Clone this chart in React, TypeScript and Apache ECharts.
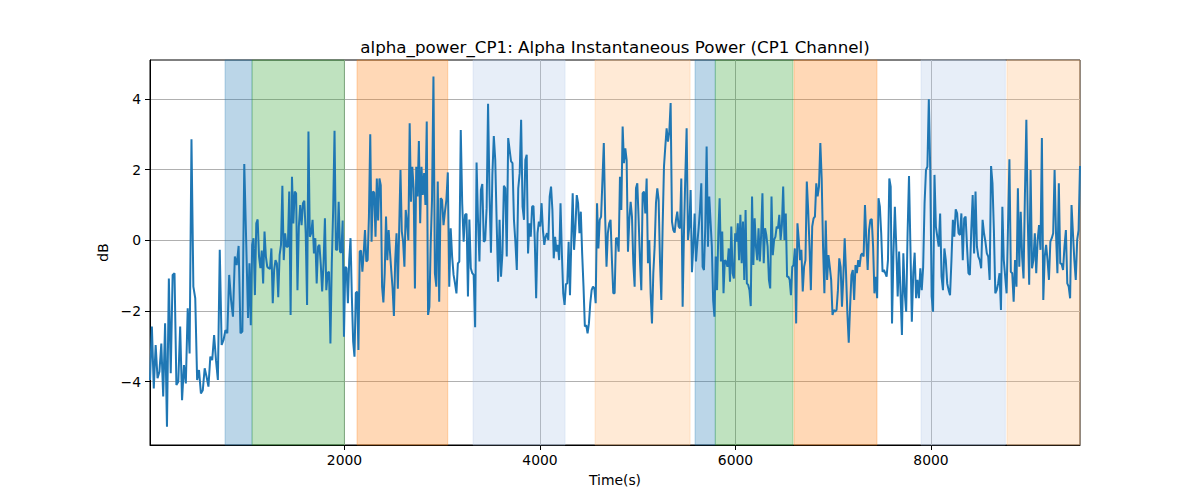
import React, { useEffect, useRef } from "react";
import * as echarts from "echarts";

const TITLE = "alpha_power_CP1: Alpha Instantaneous Power (CP1 Channel)";
const X_NAME = "Time(s)";
const Y_NAME = "dB";

// Power values (dB), read segment by segment across the time axis
const seg1 = [-3.95, -2.44, -4.19, -2.96, -3.9, -3.72, -2.92, -4.42, -2.35, -5.27, -1.08, -3.76, -0.98, -0.93, -4.09, -4.0, -2.44, -4.52, -3.53, -4.05, -1.92, -3.2, 2.86, -1.31, -1.64, -3.95, -3.67, -4.33, -4.24, -3.62, -3.86, -4.14, -3.29, -3.39, -2.68, -3.39, -3.95, -0.27, -2.96, -2.82, -2.54, -2.63, -0.98, -1.69, -2.16, -0.46, -0.7, -0.16, -2.63, -2.58, 2.16, 0.0, -2.2];
const seg2 = [-0.65, -2.4, -0.13, 0.06, -1.55, 0.48, 0.59, -0.46, -0.79, -0.29, -1.22, 0.25, -0.46, -0.75, -0.79, -0.81, -0.23, -1.78, -0.84, -0.56, -0.65, -1.61, -0.42, -0.13, 1.54, -0.56, 0.2, -0.18, -0.18, 1.38, -2.11, 1.8, 0.48, 1.38, 1.33, -1.41, 0.39, 1.0, 0.43, 1.05, 1.12, 0.2, -1.83, 3.08, 0.1, 0.2, 0.58, -0.37, 0.06, -1.22, -0.18, -0.13, -0.7, -1.45, -0.65, 0.62, -1.41, -0.92, -0.89, -2.92, -0.65, 0.86, 3.1, -0.27, -0.27, 1.09, -0.32];
const seg3 = [-0.35, 0.56, -2.73, -0.75, -0.79, -1.78, -0.56, 0.06, -1.6, -2.87, -3.29, -1.49, -1.45, -3.1, -0.32, -0.29, -0.89, -0.37, 0.29, -0.6, -0.56, 0.67, 3.0, -0.04, 1.38, 1.35, 0.1, 1.75, 0.56, 1.75, 1.56, -1.31, -1.76, -0.93, 0.67, -0.56, 0.29, -0.32, -0.86, -1.36, -2.14, -0.56, 0.2, -1.37, 0.29, 1.99, 0.25, -0.04, -0.75, 0.86, 0.5, 0.0, 3.31, 1.09, 2.08, 1.48, -1.36, 2.08, 1.24, 2.81, 0.48, 2.08, 1.28, 1.9, 1.0, 3.36, -2.11, -1.88, -0.1, 1.14];
const seg4 = [4.63, -0.93, -1.31, 1.66, -1.74, 1.19, 1.14, 0.43, 0.81, 1.14, 1.92, -1.31, 0.34, -0.46, -0.98, -1.22, -1.5, -0.65, -0.6, 3.12, 1.05, -0.04, 0.72, 0.75, -1.59, 0.59, -0.79, -0.93, -0.98, -2.46, 2.2, 0.58, -0.6, 1.42, 1.59, -0.04, 0.0, 0.91, 3.86, 1.33, -0.35, 1.85, 2.95, 2.27, 0.48, -1.17, 0.58, -1.03, -0.37, 1.54, 1.47, -0.46, 2.89, 2.56, 2.23, 2.18, 0.58, -0.04, -0.84, 1.47, 1.9, 3.41, 0.95, 0.58];
const seg5 = [2.27, 2.42, -0.37, 0.48, 0.1, 0.95, 0.97, -0.04, -1.64, 0.2, 0.53, 0.39, 1.05, 0.29, -0.13, 0.1, 0.2, 0.01, 1.24, 1.52, 0.86, -0.51, 0.1, -0.32, -0.13, -0.56, 1.05, -0.37, -1.5, -1.83, -1.24, -1.22, -0.04, -1.55, 0.01, 1.33, -0.27, 0.34, 1.28, 1.05, 0.2, 0.81, -0.37, -1.31, -2.44, -2.4, -2.63, -2.35, -1.78, -1.41, -1.31, -1.36, -1.78, 1.05, -0.23, 0.58, 0.67, 1.71, 2.75, 0.67, -0.75, 0.2, 0.48, 0.58, -0.56, -1.5, -1.5, 0.06];
const seg6 = [0.06, -0.32, 1.8, 0.86, 3.22, 2.18, 2.6, 2.27, -0.32, 0.58, 1.09, 0.67, -0.65, -1.31, 1.47, 1.61, 0.58, -0.56, -1.41, 1.33, 1.38, 0.76, 1.75, -0.65, 0.01, -1.5, -2.35, -0.93, -0.18, 1.05, 1.47, 1.14, -0.56, -1.69, 0.39, 2.08, 2.65, 3.17, 2.79, 3.07, 3.88, 0.53, 0.29, 0.22, 0.58, 0.81, 0.39, 0.34, 1.75, -1.88, 0.2, 1.8, 3.17, 0.01, 0.39, 1.42, -0.9, -0.18, 0.76, -0.6, -0.09, 0.34, 0.86, 1.61, -0.75, -0.84, 0.39, 2.65, -0.18];
const seg7 = [1.24, 0.53, -0.18, -1.69, -2.16, -0.46, -1.41, 0.2, 1.19, -0.6, 0.25, -1.5, -0.56, -0.6, -0.75, -0.23, -1.17, 0.39, -0.93, -1.08, 0.2, -0.04, 0.48, -0.56, 0.72, -0.65, 0.53, -1.12, 0.86, -1.22, -1.26, -1.41, -1.86, 1.24, -0.7, 0.62, -0.18, -0.56, 0.34, -0.6, 0.15, 1.33, -0.65, 0.34, 0.15, -0.18, -1.12, -1.36, 1.24, -0.42, 0.01, 0.1, 0.39, 0.34, 0.72, 0.01, 0.43, 1.52, 0.01, 0.76, -1.03, -1.03, -1.12, -1.55, -0.75, -0.7, -0.23, -2.35, 0.48, 0.01, -0.56];
const seg8 = [-0.27, -1.45, -0.75, -0.56, 1.66, 0.86, -0.18, -1.41, 0.39, 0.62, 0.67, 1.61, 1.24, 1.52, 2.75, 1.75, -0.18, -1.5, 0.56, -1.12, -0.42, -0.75, -1.12, -2.11, -1.97, -2.02, -1.97, -1.41, -0.51, -0.75, -1.88, -1.03, 0.06, -0.93, -2.07, -2.9, -1.88, -0.98, -0.84, -1.69, -0.7, -0.93, -0.56, -0.75, -0.42, -0.37, -0.46, 1.0, 0.01, -0.84, 0.29, 0.58, 0.6, -0.18, -1.5, -1.03, -1.64, 1.19, 0.95, 0.2, -0.89, -0.84, -0.93, -1.03, -0.56, 1.75, 1.52, -2.35];
const seg9 = [-0.37, 0.95, -0.18, -1.59, -0.32, -1.5, -2.68, -0.37, -1.5, -2.02, 0.2, 1.82, -0.18, -2.3, -0.93, -0.35, -1.64, -1.12, -1.64, -0.79, -1.41, -0.75, 1.05, 1.99, 2.08, 3.99, 1.99, -1.59, -2.02, 1.85, 0.39, 0.1, -0.18, 0.76, -1.03, -1.41, -0.23, -0.56, -1.22, -1.41, -1.55, -0.56, 0.58, 0.1, 0.88, 0.76, 0.2, 0.15, 0.76, -0.56, 0.62, 0.67, -0.18, -0.93, -0.98, 0.29, 1.28, -0.37, 1.38, -0.18, -0.46, -0.56, -0.79, 0.58, 0.2];
const seg10 = [-0.04, -0.37, -0.46, -1.12, 2.1, 1.61, 0.29, -1.5, -1.41, -1.22, -0.93, -1.97, 0.95, -0.56, -1.03, -1.5, 0.39, 2.29, -0.89, -0.93, -1.74, -0.56, -1.31, 1.47, -0.75, 0.81, -0.46, -1.08, 1.33, 3.41, 0.58, -1.26, 1.99, -0.79, -0.56, 0.2, -0.93, 0.01, 0.43, -0.27, 2.89, -1.69, -0.46, -0.13, -0.56, -1.12, -0.04, 0.06, 0.2, 1.99, 0.2, -0.93, 1.61, -0.65, -0.67, -0.84, -0.18, 0.29, -1.22, -1.31, -1.64, 1.0, 0.2, -0.56, -1.12, 0.01, 0.29, 2.1];

// Time (s) at the boundaries of the segments above
const segBounds = [10, 1013, 1954, 2895, 3836, 4777, 5718, 6660, 7601, 8542, 9524];

// Shaded intervals
const bandStarts = [778, 1054, 2128, 3315, 4563, 5586, 5793, 6598, 7898, 8777];
const bandEnds = [1054, 1998, 3056, 4256, 5535, 5793, 6588, 7447, 8760, 9524];
const bandColors = ["#1f77b4", "#2ca02c", "#ff7f0e", "#aec7e8", "#ffbb78", "#1f77b4", "#2ca02c", "#ff7f0e", "#aec7e8", "#ffbb78"];

const xTicks = [2000, 4000, 6000, 8000];
const yTicks = [-4, -2, 0, 2, 4];
const X_MIN = 10;
const X_MAX = 9524;
const Y_MIN = -5.79;
const Y_MAX = 5.1;

const FONT = "DejaVu Sans";

function rgba(hex: string, a: number) {
  const n = parseInt(hex.slice(1), 16);
  return `rgba(${(n >> 16) & 255},${(n >> 8) & 255},${n & 255},${a})`;
}

function buildData(): [number, number][] {
  const segments = [seg1, seg2, seg3, seg4, seg5, seg6, seg7, seg8, seg9, seg10];
  const out: [number, number][] = [];
  segments.forEach((seg, k) => {
    const a = segBounds[k];
    const b = segBounds[k + 1];
    const n = seg.length;
    seg.forEach((v, i) => {
      const t = k === 0 ? a + (i * (b - a)) / (n - 1) : a + ((i + 1) * (b - a)) / n;
      out.push([Math.round(t * 10) / 10, v]);
    });
  });
  return out;
}

const minusFmt = (v: number) => (v < 0 ? "\u2212" + Math.abs(v) : String(v));

export default function App() {
  const ref = useRef<HTMLDivElement>(null);
  useEffect(() => {
    if (!ref.current) return;
    const chart = echarts.init(ref.current, null, { renderer: "svg" });
    const bands = bandStarts.map((s, i) => [
      {
        xAxis: s,
        itemStyle: {
          color: rgba(bandColors[i], 0.3),
          borderColor: rgba(bandColors[i], 0.3),
          borderWidth: 1,
        },
      },
      { xAxis: bandEnds[i] },
    ]);
    chart.setOption({
      animation: false,
      backgroundColor: "#ffffff",
      textStyle: { fontFamily: FONT },
      grid: {
        left: 150,
        right: 120,
        top: 60,
        bottom: 55,
        show: true,
        borderColor: "#000",
        borderWidth: 1,
        backgroundColor: "transparent",
      },
      graphic: [
        {
          type: "text",
          x: 615,
          y: 47,
          style: {
            text: TITLE,
            fontSize: 16.7,
            fontFamily: FONT,
            fill: "#000",
            align: "center",
            verticalAlign: "middle",
            textAlign: "center",
            textVerticalAlign: "middle",
          },
        },
      ],
      xAxis: {
        type: "value",
        min: X_MIN,
        max: X_MAX,
        name: X_NAME,
        nameLocation: "middle",
        nameGap: 28,
        nameTextStyle: { fontSize: 13.9, fontFamily: FONT, color: "#000" },
        axisLine: { show: true, onZero: false, lineStyle: { color: "#000", width: 1 } },
        axisTick: { show: true, customValues: xTicks, length: 5, lineStyle: { color: "#000", width: 1 } },
        axisLabel: {
          customValues: xTicks,
          margin: 8,
          fontSize: 13.9,
          fontFamily: FONT,
          color: "#000",
          formatter: minusFmt,
        },
        splitLine: { show: true, lineStyle: { color: "#b0b0b0", width: 1 } },
      },
      yAxis: {
        type: "value",
        min: Y_MIN,
        max: Y_MAX,
        name: Y_NAME,
        nameLocation: "middle",
        nameGap: 36,
        nameRotate: 90,
        nameTextStyle: { fontSize: 13.9, fontFamily: FONT, color: "#000" },
        axisLine: { show: true, onZero: false, lineStyle: { color: "#000", width: 1 } },
        axisTick: { show: true, customValues: yTicks, length: 5, lineStyle: { color: "#000", width: 1 } },
        axisLabel: {
          customValues: yTicks,
          margin: 9,
          fontSize: 13.9,
          fontFamily: FONT,
          color: "#000",
          formatter: minusFmt,
        },
        splitLine: { show: true, lineStyle: { color: "#b0b0b0", width: 1 } },
      },
      series: [
        {
          type: "line",
          data: buildData(),
          showSymbol: false,
          symbol: "none",
          clip: true,
          lineStyle: { color: "#1f77b4", width: 2 },
          itemStyle: { color: "#1f77b4" },
          z: 5,
          markArea: { silent: true, data: bands },
        },
      ],
    });
    return () => chart.dispose();
  }, []);
  return (
    <div
      ref={ref}
      style={{ position: "absolute", left: 0, top: 0, width: 1200, height: 500, background: "#fff" }}
    />
  );
}
